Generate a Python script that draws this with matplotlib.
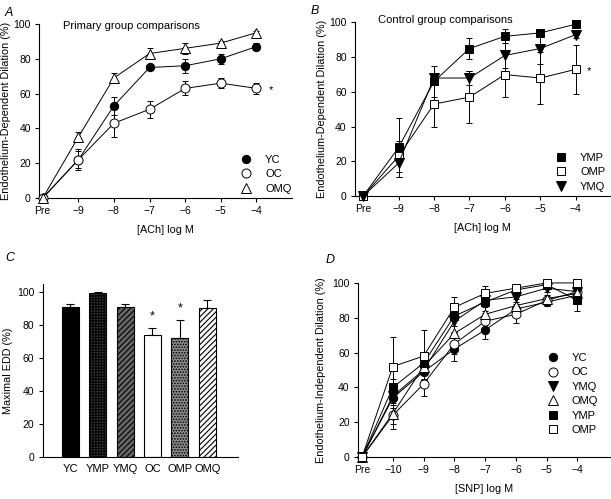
import numpy as np
import matplotlib.pyplot as plt
from matplotlib.lines import Line2D

plt.rcParams['font.family'] = ['Liberation Sans', 'DejaVu Sans']
plt.rcParams['font.size'] = 7
plt.rcParams['hatch.linewidth'] = 0.8

# ---------------------------------------------------------------------------
# Data
# ---------------------------------------------------------------------------
ach_ticks = ['Pre', '\u22129', '\u22128', '\u22127', '\u22126', '\u22125', '\u22124']
snp_ticks = ['Pre', '\u221210', '\u22129', '\u22128', '\u22127', '\u22126', '\u22125', '\u22124']

# Panel A
a_yc = [0, 22, 53, 75, 76, 80, 87]
a_yc_err = [0, 5, 5, 1, 4, 3, 2]
a_oc = [0, 22, 43, 51, 63, 66, 63]
a_oc_err = [0, 6, 8, 5, 4, 3, 3]
a_omq = [0, 35, 69, 83, 86, 89, 95]
a_omq_err = [0, 3, 3, 3, 3, 1, 1]

# Panel B
b_ymp = [0, 28, 66, 85, 92, 94, 99]
b_ymp_err = [0, 17, 9, 6, 4, 2, 1]
b_omp = [0, 23, 53, 57, 70, 68, 73]
b_omp_err = [0, 9, 13, 15, 13, 15, 14]
b_ymq = [0, 19, 68, 68, 81, 85, 93]
b_ymq_err = [0, 8, 3, 4, 7, 9, 2]

# Panel C
c_groups = ['YC', 'YMP', 'YMQ', 'OC', 'OMP', 'OMQ']
c_vals = [91, 99.5, 91, 74, 72, 90.5]
c_errs = [2, 0.5, 2, 4, 11, 5]
c_star = [False, False, False, True, True, False]

# Panel D
d_yc = [0, 34, 49, 62, 73, 85, 89, 93]
d_yc_err = [0, 6, 5, 7, 5, 3, 2, 3]
d_oc = [0, 24, 42, 65, 78, 82, 90, 95]
d_oc_err = [0, 8, 7, 6, 5, 5, 2, 2]
d_ymq = [0, 35, 50, 78, 90, 92, 97, 95]
d_ymq_err = [0, 5, 6, 6, 4, 3, 2, 3]
d_omq = [0, 25, 52, 71, 82, 87, 91, 94]
d_omq_err = [0, 6, 7, 8, 5, 4, 2, 2]
d_ymp = [0, 40, 54, 81, 89, 96, 99, 90]
d_ymp_err = [0, 5, 6, 6, 5, 2, 1, 6]
d_omp = [0, 52, 58, 86, 94, 97, 100, 100]
d_omp_err = [0, 17, 15, 6, 4, 2, 0, 0]

# ---------------------------------------------------------------------------
# Styles
# ---------------------------------------------------------------------------
STY = {
    'YC':  dict(marker='o', mfc='black', mec='black', ms=6),
    'OC':  dict(marker='o', mfc='white', mec='black', ms=6.5),
    'OMQ': dict(marker='^', mfc='white', mec='black', ms=6.5),
    'YMP': dict(marker='s', mfc='black', mec='black', ms=5.5),
    'OMP': dict(marker='s', mfc='white', mec='black', ms=5.5),
    'YMQ': dict(marker='v', mfc='black', mec='black', ms=6.5),
}


def series(ax, y, err, name):
    x = np.arange(len(y))
    ax.errorbar(x, y, yerr=err, color='black', lw=0.7, elinewidth=0.7,
                capsize=2.2, capthick=0.7, mew=0.7, clip_on=False,
                zorder=3, **STY[name])


def marker_legend(ax, names, loc):
    handles = [Line2D([], [], linestyle='none', color='black', mew=0.7, **STY[n])
               for n in names]
    ax.legend(handles, names, loc='lower right', bbox_to_anchor=loc,
              frameon=False, fontsize=8, handletextpad=0.7,
              labelspacing=0.4, borderaxespad=0)


def style_axes(ax):
    for s in ['top', 'right']:
        ax.spines[s].set_visible(False)
    for s in ['left', 'bottom']:
        ax.spines[s].set_linewidth(0.8)
    ax.tick_params(direction='out', length=3, width=0.8, labelsize=7.5, pad=3)


fig = plt.figure(figsize=(6.11, 4.99), dpi=100)

# ---- Panel A ----
axA = fig.add_axes([0.064, 0.603, 0.414, 0.349])
series(axA, a_yc, a_yc_err, 'YC')
series(axA, a_oc, a_oc_err, 'OC')
series(axA, a_omq, a_omq_err, 'OMQ')
axA.set_xlim(-0.1, 7.0)
axA.set_ylim(0, 100)
axA.set_xticks(range(len(ach_ticks)))
axA.set_xticklabels(ach_ticks)
axA.set_yticks(range(0, 101, 20))
style_axes(axA)
axA.set_xlabel('[ACh] log M', fontsize=7.8, labelpad=6)
axA.set_ylabel('Endothelium-Dependent Dilation (%)', fontsize=7.8, labelpad=1.5)
axA.text(0.56, 99, 'Primary group comparisons', fontsize=8, va='center')
axA.text(6.35, 62, '*', fontsize=8, va='center')
marker_legend(axA, ['YC', 'OC', 'OMQ'], (1.015, 0.0))
fig.text(0.008, 0.985, 'A', fontsize=9, style='italic', va='top')

# ---- Panel B ----
axB = fig.add_axes([0.581, 0.607, 0.417, 0.348])
series(axB, b_ymp, b_ymp_err, 'YMP')
series(axB, b_omp, b_omp_err, 'OMP')
series(axB, b_ymq, b_ymq_err, 'YMQ')
axB.set_xlim(-0.23, 6.96)
axB.set_ylim(0, 100)
axB.set_xticks(range(len(ach_ticks)))
axB.set_xticklabels(ach_ticks)
axB.set_yticks(range(0, 101, 20))
style_axes(axB)
axB.set_xlabel('[ACh] log M', fontsize=7.8, labelpad=6)
axB.set_ylabel('Endothelium-Dependent Dilation (%)', fontsize=7.8, labelpad=1.5)
axB.text(0.42, 101.5, 'Control group comparisons', fontsize=8, va='center')
axB.text(6.3, 72, '*', fontsize=8, va='center')
marker_legend(axB, ['YMP', 'OMP', 'YMQ'], (1.0, 0.0))
fig.text(0.508, 0.99, 'B', fontsize=9, style='italic', va='top')

# ---- Panel C ----
axC = fig.add_axes([0.070, 0.084, 0.320, 0.347])
bar_fc = ['black', '#3c3c3c', '#666666', 'white', '#8c8c8c', 'white']
bar_hatch = [None, '++++++', '//////', None, '......', '//////']
xc = np.arange(len(c_groups))
for i in range(len(c_groups)):
    axC.bar(xc[i], c_vals[i], width=0.62, color=bar_fc[i], edgecolor='black',
            linewidth=0.8, hatch=bar_hatch[i], zorder=2)
axC.errorbar(xc, c_vals, yerr=[np.zeros(len(c_errs)), c_errs], fmt='none',
             ecolor='black', elinewidth=0.8, capsize=3, capthick=0.8, zorder=1)
for i in range(len(c_groups)):
    if c_star[i]:
        axC.text(xc[i], c_vals[i] + c_errs[i] + 7, '*', ha='center',
                 va='center', fontsize=9)
axC.set_xlim(-1.0, 6.13)
axC.set_ylim(0, 105)
axC.set_xticks(xc)
axC.set_xticklabels(c_groups, fontsize=8)
axC.set_yticks(range(0, 101, 20))
style_axes(axC)
axC.tick_params(axis='x', length=0, pad=5, labelsize=8)
axC.set_ylabel('Maximal EDD (%)', fontsize=7.8, labelpad=3)
fig.text(0.008, 0.495, 'C', fontsize=9, style='italic', va='top')

# ---- Panel D ----
axD = fig.add_axes([0.586, 0.084, 0.412, 0.349])
series(axD, d_yc, d_yc_err, 'YC')
series(axD, d_oc, d_oc_err, 'OC')
series(axD, d_ymq, d_ymq_err, 'YMQ')
series(axD, d_omq, d_omq_err, 'OMQ')
series(axD, d_ymp, d_ymp_err, 'YMP')
series(axD, d_omp, d_omp_err, 'OMP')
axD.set_xlim(-0.13, 8.05)
axD.set_ylim(0, 100)
axD.set_xticks(range(len(snp_ticks)))
axD.set_xticklabels(snp_ticks)
axD.set_yticks(range(0, 101, 20))
style_axes(axD)
axD.set_xlabel('[SNP] log M', fontsize=7.8)
axD.xaxis.set_label_coords(0.5, -0.155)
axD.set_ylabel('Endothelium-Independent Dilation (%)', fontsize=7.8, labelpad=4.5)
marker_legend(axD, ['YC', 'OC', 'YMQ', 'OMQ', 'YMP', 'OMP'], (0.97, 0.1))
fig.text(0.533, 0.49, 'D', fontsize=9, style='italic', va='top')

fig.savefig('out.png', dpi=100)
